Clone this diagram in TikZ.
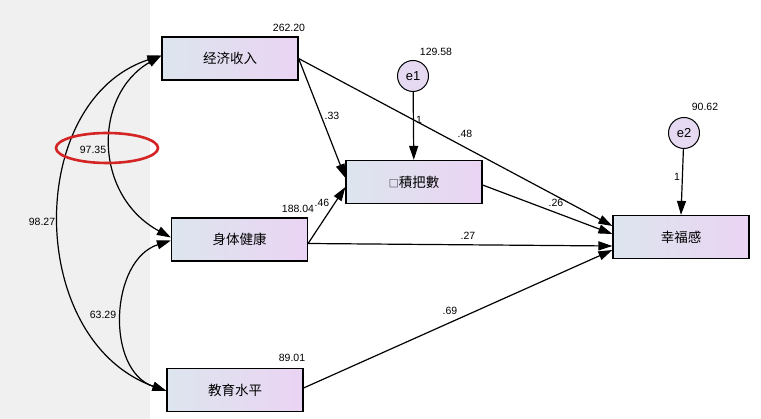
\documentclass[tikz,border=0pt]{standalone}
\usepackage{fontspec}
\setmainfont{Liberation Sans}
\newfontfamily\cjk{Noto Sans CJK SC}
\usetikzlibrary{arrows.meta,calc}
\definecolor{boxl}{HTML}{DDE5EE}
\definecolor{boxr}{HTML}{EAD4F3}
\definecolor{errc}{HTML}{E6DAF2}
\definecolor{bgg}{HTML}{F0F0F0}
\definecolor{redc}{HTML}{D42424}
\begin{document}
\begin{tikzpicture}[x=1pt,y=-1pt,
  box/.style={draw, line width=1.2pt, minimum width=136pt, minimum height=43pt,
    left color=boxl, right color=boxr, font=\cjk\fontsize{13.5}{13.5}\selectfont, inner sep=0pt},
  err/.style={circle, draw, line width=1pt, minimum size=31pt, fill=errc,
    font=\fontsize{13}{13}\selectfont, inner sep=0pt},
  lab/.style={font=\fontsize{10.5}{11}\selectfont, inner sep=0pt},
  arr/.style={-{Triangle[length=14pt,width=9pt]}, line width=1.2pt},
  cov/.style={{Triangle[length=14pt,width=9pt]}-{Triangle[length=14pt,width=9pt]}, line width=1.2pt}
]
\useasboundingbox (0,0) rectangle (761,419);
\fill[bgg] (0,0) rectangle (150,419);

% boxes
\node[box] (a) at (230,58.5) {经济收入};
\node[box] (b) at (239.5,239.5) {身体健康};
\node[box] (c) at (235,390) {教育水平};
\node[box] (m) at (414,182) {{\fontsize{10}{10}\selectfont□}積把數};
\node[box] (y) at (681,237) {幸福感};
\node[err] (e1) at (413,76) {e1};
\node[err] (e2) at (684,133) {e2};

% anchor points
\coordinate (aE) at ($(a.east)+(0,0)$);
\coordinate (aW) at ($(a.west)+(0,-3)$);
\coordinate (bE1) at ($(b.east)+(0,4)$);
\coordinate (bW1) at ($(b.west)+(0,-2)$);
\coordinate (bW2) at ($(b.west)+(0,1)$);
\coordinate (cE) at ($(c.east)+(0,-2)$);
\coordinate (cW) at ($(c.west)+(0,1)$);
\coordinate (mW1) at ($(m.west)+(0,-4)$);
\coordinate (mW2) at ($(m.west)+(0,5)$);
\coordinate (mE) at ($(m.east)+(0,3)$);
\coordinate (yW1) at ($(y.west)+(0,-11)$);
\coordinate (yW2) at ($(y.west)+(0,-3)$);
\coordinate (yW3) at ($(y.west)+(0,9)$);
\coordinate (yW4) at ($(y.west)+(0,13)$);

% regression paths
\draw[arr] (aE) -- (mW1);
\draw[arr] (aE) -- (yW1);
\draw[arr] (bE1) -- (mW2);
\draw[arr] (bE1) -- (yW3);
\draw[arr] (mE) -- (yW2);
\draw[arr] (cE) -- (yW4);
\draw[arr] (e1) -- (m);
\draw[arr] (e2) -- (y.north);

% covariances
\draw[cov] (aW) .. controls (93,95) and (93,195) .. (bW1);
\draw[cov] (aW) .. controls (25,100) and (25,340) .. (cW);
\draw[cov] (bW2) .. controls (110,260) and (105,370) .. (cW);

% labels
\node[lab] (l1) at (289,28) {262.20};
\node[lab] (l2) at (298,209) {188.04};
\node[lab] (l3) at (292,358) {89.01};
\node[lab] (l4) at (436,52) {129.58};
\node[lab] (l5) at (705,107) {90.62};
\node[lab] (l6) at (419,120) {1};
\node[lab] (l7) at (677,177) {1};
\node[lab] (l8) at (332,116) {.33};
\node[lab] (l9) at (322,203) {.46};
\node[lab] (l10) at (465,134) {.48};
\node[lab] (l11) at (468,236) {.27};
\node[lab] (l12) at (556,203) {.26};
\node[lab] (l13) at (450,311) {.69};
\node[lab] (l14) at (93,150) {97.35};
\node[lab] (l15) at (42,222) {98.27};
\node[lab] (l16) at (103,315) {63.29};

% highlight
\draw[redc, line width=2.6pt] (107,148) ellipse [x radius=51, y radius=15];
\end{tikzpicture}
\end{document}
